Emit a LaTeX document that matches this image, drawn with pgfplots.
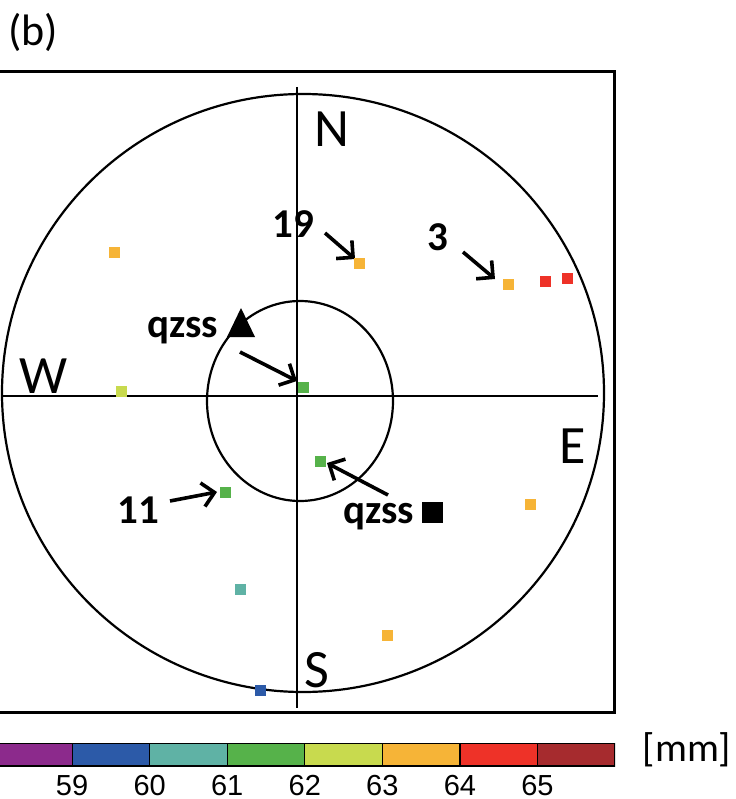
\documentclass[border=0pt]{standalone}
\usepackage{fontspec}
\setmainfont{Carlito}
\newfontfamily\cbfont{Liberation Sans}
\usepackage{pgfplots}
\usepackage{pgfplotstable}
\pgfplotsset{compat=1.18}
\usetikzlibrary{arrows.meta}

\definecolor{cPurple}{RGB}{140,42,140}
\definecolor{cBlue}{RGB}{44,90,168}
\definecolor{cTeal}{RGB}{95,178,165}
\definecolor{cGreen}{RGB}{86,178,74}
\definecolor{cYellow}{RGB}{200,218,78}
\definecolor{cOrange}{RGB}{246,180,55}
\definecolor{cRed}{RGB}{238,50,40}
\definecolor{cDark}{RGB}{166,43,46}

% satellite positions (sky-plot coordinates, 1 unit = 1 px) and colour class
\pgfplotstableread{
u v c
-183 143 o
-176 4 y
6 8 g
62 132 o
211 111 o
248 114 r
270 117 r
23 -66 g
233 -109 o
90 -240 o
-72 -97 g
-57 -194 t
-37 -295 b
}\sats

\begin{document}
\begin{tikzpicture}
\begin{axis}[
  scale only axis, width=307pt, height=320pt,
  xmin=-297, xmax=317, ymin=-317, ymax=323,
  hide axis, clip=false,
]
% frame (left edge cropped)
\draw[line width=1.5pt] (axis cs:-297,323) -- (axis cs:317,323) -- (axis cs:317,-317) -- (axis cs:-297,-317);
% cross and circles
\draw[line width=1.1pt] (axis cs:0,308) -- (axis cs:0,-313);
\draw[line width=1.1pt] (axis cs:-295,-1) -- (axis cs:301,-1);
\draw[line width=1.1pt] (axis cs:6,2) ellipse [x radius=301, y radius=299];
\draw[line width=1.1pt] (axis cs:3,-6) ellipse [x radius=93, y radius=100];

\addplot[scatter, only marks, mark=square*, mark size=2.5pt,
  scatter src=explicit symbolic,
  scatter/classes={
    b={mark=square*, draw=cBlue, fill=cBlue},
    t={mark=square*, draw=cTeal, fill=cTeal},
    g={mark=square*, draw=cGreen, fill=cGreen},
    y={mark=square*, draw=cYellow, fill=cYellow},
    o={mark=square*, draw=cOrange, fill=cOrange},
    r={mark=square*, draw=cRed, fill=cRed}}
] table[x=u, y=v, meta=c] {\sats};

% direction letters
\node[font=\fontsize{27}{30}\selectfont] at (axis cs:35,266) {N};
\node[font=\fontsize{27}{30}\selectfont] at (axis cs:-253,19) {W};
\node[font=\fontsize{27}{30}\selectfont] at (axis cs:276,-51) {E};
\node[font=\fontsize{27}{30}\selectfont] at (axis cs:20,-275) {S};
\node[font=\fontsize{22}{24}\selectfont] at (axis cs:-264,362.5) {(b)};

% annotations
\node[font=\bfseries\fontsize{20.5}{22}\selectfont] at (axis cs:-4,171) {19};
\node[font=\bfseries\fontsize{20.5}{22}\selectfont] at (axis cs:141,158) {3};
\node[font=\bfseries\fontsize{20.5}{22}\selectfont] at (axis cs:-159,-115) {11};
\node[font=\bfseries\fontsize{20.5}{22}\selectfont, anchor=base west, inner sep=0pt] at (axis cs:-150,58) {qzss};
\node[font=\bfseries\fontsize{20.5}{22}\selectfont, anchor=base west, inner sep=0pt] at (axis cs:46,-128) {qzss};
\fill[black] (axis cs:-70,58) -- (axis cs:-42,58) -- (axis cs:-56,87) -- cycle;
\fill[black] (axis cs:125,-107) rectangle (axis cs:146,-128);

\begin{scope}[line width=1.8pt, -{Straight Barb[length=6pt,width=12pt]}]
\draw (axis cs:28,162) -- (axis cs:58,136);
\draw (axis cs:166,143) -- (axis cs:198,116);
\draw (axis cs:-57,43) -- (axis cs:0,14);
\draw (axis cs:-127,-106) -- (axis cs:-80,-97);
\draw (axis cs:91,-100) -- (axis cs:30,-68);
\end{scope}

\node[font=\fontsize{20}{22}\selectfont] at (axis cs:390,-355) {[mm]};

\coordinate (cbsw) at (axis cs:-297,-371);
\coordinate (bbtl) at (axis cs:-297,395);
\coordinate (bbbr) at (axis cs:438,-404);
\end{axis}

\begin{axis}[
  at={(cbsw)}, anchor=south west,
  scale only axis, width=307.5pt, height=11.5pt,
  xmin=58.07, xmax=66, ymin=0, ymax=1,
  axis line style={draw=none}, major tick length=0pt,
  ytick=\empty, xtick={59,60,61,62,63,64,65},
  /pgf/number format/assume math mode=true,
  xticklabel style={font=\cbfont\fontsize{14.5}{14.5}\selectfont, inner sep=0pt, yshift=-4.5pt},
]
\addplot[fill=cPurple, draw=black, line width=0.6pt] coordinates {(58,1) (59,1)} \closedcycle;
\addplot[fill=cBlue, draw=black, line width=0.6pt] coordinates {(59,1) (60,1)} \closedcycle;
\addplot[fill=cTeal, draw=black, line width=0.6pt] coordinates {(60,1) (61,1)} \closedcycle;
\addplot[fill=cGreen, draw=black, line width=0.6pt] coordinates {(61,1) (62,1)} \closedcycle;
\addplot[fill=cYellow, draw=black, line width=0.6pt] coordinates {(62,1) (63,1)} \closedcycle;
\addplot[fill=cOrange, draw=black, line width=0.6pt] coordinates {(63,1) (64,1)} \closedcycle;
\addplot[fill=cRed, draw=black, line width=0.6pt] coordinates {(64,1) (65,1)} \closedcycle;
\addplot[fill=cDark, draw=black, line width=0.6pt] coordinates {(65,1) (66,1)} \closedcycle;
\end{axis}

\pgfresetboundingbox
\useasboundingbox (bbtl) rectangle (bbbr);
\end{tikzpicture}
\end{document}
